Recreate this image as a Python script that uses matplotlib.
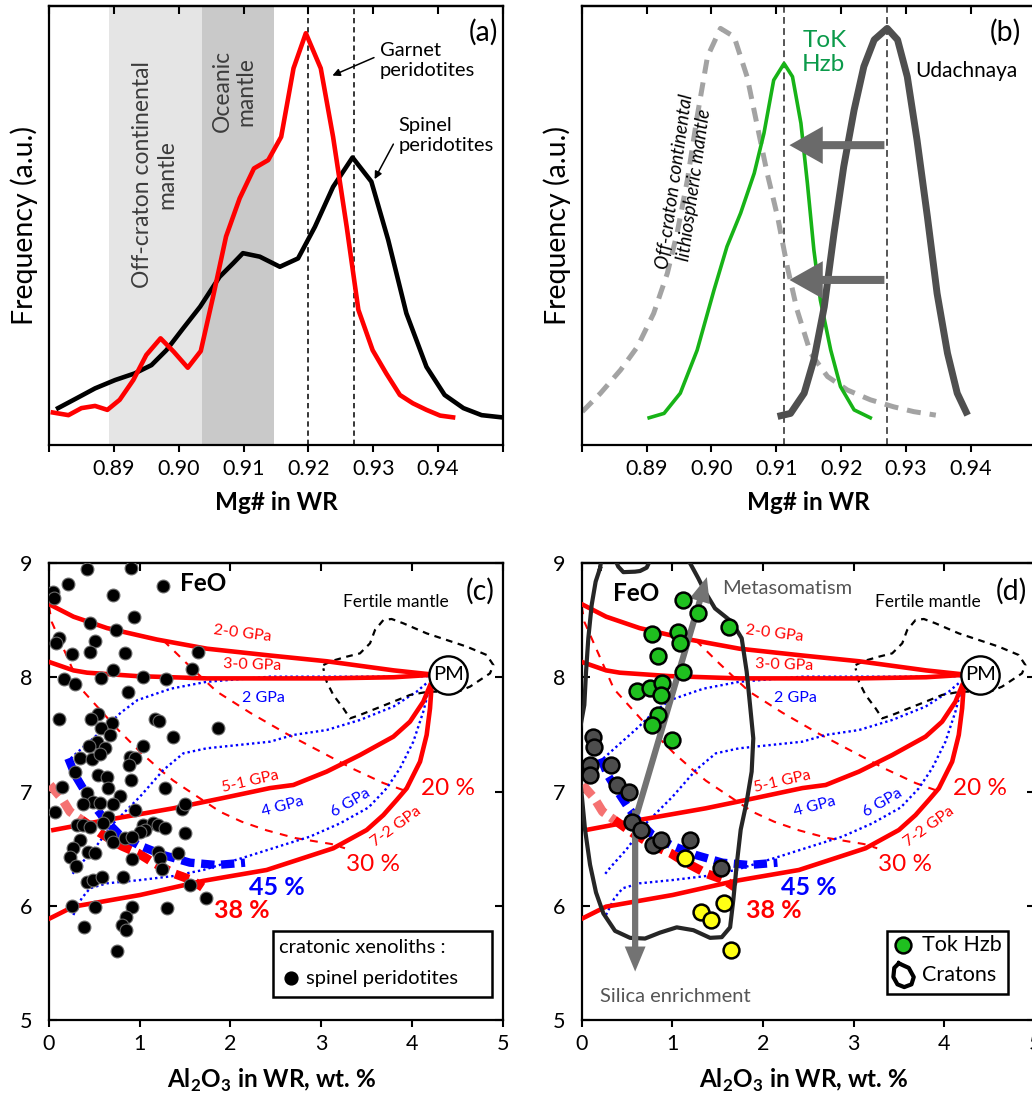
import numpy as np
import matplotlib.pyplot as plt
from matplotlib.patches import FancyArrowPatch, Rectangle

plt.rcParams['font.family'] = ['Lato', 'DejaVu Sans']
plt.rcParams['mathtext.fontset'] = 'custom'
plt.rcParams['mathtext.rm'] = 'Lato'
plt.rcParams['mathtext.bf'] = 'Lato:bold'

# ---- (a) Mg# distributions of garnet and spinel peridotites
garnet_mg = [0.8806, 0.8830, 0.8850, 0.8871, 0.8890, 0.8909, 0.8930, 0.8950, 0.8972, 0.8992,
             0.9014, 0.9034, 0.9053, 0.9073, 0.9094, 0.9116, 0.9138, 0.9158, 0.9177, 0.9196,
             0.9219, 0.9238, 0.9259, 0.9277, 0.9299, 0.9320, 0.9341, 0.9361, 0.9382, 0.9403, 0.9423]
garnet_freq = [0.074, 0.068, 0.084, 0.089, 0.080, 0.103, 0.148, 0.205, 0.243, 0.213,
               0.176, 0.214, 0.338, 0.475, 0.562, 0.630, 0.649, 0.702, 0.858, 0.938,
               0.858, 0.702, 0.497, 0.308, 0.216, 0.163, 0.114, 0.095, 0.080, 0.067, 0.063]
spinel_mg = [0.8814, 0.8842, 0.8871, 0.8902, 0.8932, 0.8958, 0.8981, 0.9007, 0.9033, 0.9063,
             0.9084, 0.9099, 0.9125, 0.9156, 0.9184, 0.9210, 0.9238, 0.9268, 0.9297, 0.9323,
             0.9351, 0.9382, 0.9410, 0.9439, 0.9467, 0.9498]
spinel_freq = [0.084, 0.106, 0.129, 0.148, 0.163, 0.182, 0.216, 0.266, 0.315, 0.383,
               0.414, 0.437, 0.429, 0.406, 0.425, 0.497, 0.588, 0.655, 0.600, 0.467,
               0.300, 0.178, 0.114, 0.084, 0.068, 0.063]
offcraton_band = [0.8892, 0.9036]
oceanic_band = [0.9036, 0.9147]
a_peaks = [0.920, 0.927]

# ---- (b) Off-craton, ToK harzburgites, Udachnaya
ocl_mg = [0.8801, 0.8829, 0.8860, 0.8886, 0.8911, 0.8932, 0.8947, 0.8963, 0.8978, 0.8994,
          0.9014, 0.9035, 0.9055, 0.9071, 0.9086, 0.9102, 0.9117, 0.9132, 0.9153, 0.9179,
          0.9210, 0.9245, 0.9281, 0.9312, 0.9346]
ocl_freq = [0.076, 0.118, 0.171, 0.224, 0.300, 0.391, 0.482, 0.604, 0.748, 0.885,
            0.949, 0.930, 0.839, 0.725, 0.619, 0.520, 0.406, 0.308, 0.209, 0.156,
            0.125, 0.103, 0.087, 0.076, 0.068]
tok_mg = [0.8904, 0.8927, 0.8952, 0.8978, 0.9004, 0.9024, 0.9045, 0.9066, 0.9081, 0.9096,
          0.9112, 0.9125, 0.9138, 0.9148, 0.9158, 0.9168, 0.9184, 0.9199, 0.9220, 0.9245]
tok_freq = [0.062, 0.072, 0.118, 0.216, 0.353, 0.452, 0.528, 0.619, 0.710, 0.831,
            0.869, 0.839, 0.733, 0.596, 0.444, 0.330, 0.216, 0.133, 0.080, 0.062]
uda_mg = [0.9102, 0.9122, 0.9143, 0.9158, 0.9174, 0.9189, 0.9204, 0.9220, 0.9235, 0.9251,
          0.9271, 0.9287, 0.9302, 0.9317, 0.9333, 0.9348, 0.9364, 0.9379, 0.9395]
uda_freq = [0.065, 0.072, 0.118, 0.194, 0.315, 0.482, 0.634, 0.763, 0.862, 0.923,
            0.949, 0.923, 0.839, 0.695, 0.520, 0.345, 0.209, 0.118, 0.068]
b_peaks = [0.9112, 0.9271]
shift_levels = [0.683, 0.376]

# ---- (c)/(d) melting model (Al2O3 vs FeO)
pm = [4.40, 8.02]
line_20_al = [0.0, 0.27, 0.64, 1.19, 1.74, 2.44, 3.06, 3.80, 4.20]
line_20_feo = [8.64, 8.53, 8.43, 8.33, 8.25, 8.19, 8.14, 8.06, 8.026]
line_30_al = [0.015, 0.27, 0.42, 0.97, 1.74, 2.43, 3.06, 3.80, 4.20]
line_30_feo = [8.13, 8.06, 8.04, 8.01, 7.99, 7.99, 7.99, 8.00, 8.02]
line_51_al = [0.048, 0.636, 1.370, 1.90, 2.436, 2.693, 3.060, 3.427, 3.795, 3.978, 4.125, 4.20]
line_51_feo = [6.663, 6.751, 6.853, 6.94, 7.03, 7.057, 7.174, 7.319, 7.480, 7.611, 7.786, 7.93]
line_72_al = [0.011, 0.268, 1.003, 1.700, 2.398, 3.133, 3.501, 3.685, 3.832, 3.942, 4.089, 4.162, 4.199, 4.217]
line_72_feo = [5.890, 5.992, 6.094, 6.218, 6.313, 6.503, 6.663, 6.794, 6.926, 7.028, 7.261, 7.495, 7.728, 7.93]
f20_al = [1.260, 1.517, 1.848, 2.215, 2.619, 2.987, 3.354, 3.685, 3.905]
f20_feo = [8.322, 8.122, 7.875, 7.690, 7.505, 7.351, 7.197, 7.074, 7.012]
f30_al = [0.0, 0.029, 0.356, 0.764, 1.021, 1.216, 1.370, 1.609, 1.885, 2.123, 2.399, 2.711, 3.115, 3.262]
f30_feo = [8.62, 8.486, 7.897, 7.538, 7.334, 7.197, 7.095, 6.969, 6.823, 6.736, 6.660, 6.593, 6.540, 6.503]
p2_al = [0.239, 0.423, 0.607, 0.791, 0.975, 1.343, 1.737, 2.436, 3.0, 3.8, 4.21]
p2_feo = [7.29, 7.42, 7.55, 7.69, 7.80, 7.90, 7.96, 8.005, 8.005, 8.005, 8.01]
p4_al = [0.26, 0.323, 0.489, 0.709, 1.003, 1.260, 1.480, 1.737, 2.436, 2.693, 3.060, 3.427, 3.795, 4.052, 4.180]
p4_feo = [6.28, 6.342, 6.488, 6.721, 6.955, 7.188, 7.334, 7.378, 7.436, 7.495, 7.538, 7.626, 7.743, 7.874, 7.961]
p6_al = [0.268, 0.360, 0.452, 0.636, 1.003, 1.370, 1.700, 2.178, 2.582, 2.876, 3.207, 3.521, 3.721, 3.868, 4.015, 4.125, 4.199]
p6_feo = [5.919, 6.065, 6.153, 6.196, 6.225, 6.260, 6.313, 6.430, 6.532, 6.605, 6.721, 6.86, 7.028, 7.203, 7.436, 7.699, 7.93]
m45_al = [0.213, 0.287, 0.386, 0.507, 0.617, 0.782, 0.984, 1.260, 1.554, 1.848, 2.160]
m45_feo = [7.290, 7.144, 7.013, 6.867, 6.751, 6.619, 6.532, 6.444, 6.377, 6.357, 6.377]
m38a_al = [0.011, 0.140, 0.231, 0.360]
m38a_feo = [7.057, 6.940, 6.823, 6.751]
m38b_al = [0.360, 0.569, 0.801, 0.984, 1.131, 1.389, 1.572, 1.693]
m38b_feo = [6.751, 6.634, 6.523, 6.459, 6.386, 6.278, 6.225, 6.161]
fertile_al = [3.023, 3.115, 3.280, 3.427, 3.538, 3.593, 3.685, 3.776, 3.905, 4.162, 4.383, 4.603,
              4.823, 4.897, 4.860, 4.750, 4.640, 4.529, 4.383, 4.180, 3.978, 3.795, 3.611, 3.427,
              3.317, 3.244, 3.133, 3.060, 3.023]
fertile_feo = [8.107, 8.142, 8.180, 8.209, 8.297, 8.414, 8.501, 8.510, 8.472, 8.384, 8.326, 8.268,
               8.195, 8.107, 8.034, 7.976, 7.918, 7.880, 7.874, 7.874, 7.845, 7.786, 7.728, 7.670,
               7.640, 7.728, 7.845, 7.961, 8.078]

# ---- (c) cratonic spinel peridotites
spinel_al = [0.415, 0.904, 0.213, 1.260, 0.702, 0.048, 0.055, 0.937, 0.452, 0.738, 0.110, 0.077,
             0.507, 0.452, 0.250, 0.838, 1.646, 0.702, 1.572, 0.165, 0.287, 0.573, 1.040, 1.290,
             0.874, 0.114, 0.544, 0.459, 0.691, 0.569, 1.168, 1.216, 1.859, 1.370, 0.672, 0.533,
             0.445, 0.617, 1.040, 0.342, 0.470, 0.562, 0.893, 0.948, 0.885,
             0.287, 0.544, 0.636, 0.900, 0.140, 0.654, 1.278, 0.415, 0.782, 0.489, 0.562, 0.378,
             0.702, 0.066, 0.948, 1.462, 1.499, 0.654, 0.599, 0.305, 0.378, 0.452, 1.040, 1.150,
             1.205, 1.278, 1.058, 1.003, 1.499, 0.342, 0.672, 0.709, 0.838, 0.911, 0.268, 0.433,
             0.507, 0.231, 1.205, 1.223, 1.425, 0.911, 0.298, 1.242, 0.415, 0.489, 0.580, 0.812,
             1.554, 1.727, 0.250, 0.507, 0.911, 1.297, 0.849, 0.801, 0.849, 0.386, 0.753]
spinel_feo = [8.947, 8.953, 8.813, 8.802, 8.720, 8.743, 8.691, 8.527, 8.472, 8.414, 8.341, 8.297,
              8.317, 8.224, 8.201, 8.209, 8.218, 8.063, 8.069, 7.985, 7.938, 7.991, 7.999, 7.982,
              7.874, 7.635, 7.675, 7.635, 7.597, 7.553, 7.632, 7.620, 7.559, 7.480, 7.495, 7.436,
              7.398, 7.378, 7.398, 7.290, 7.284, 7.325, 7.305, 7.290, 7.232,
              7.174, 7.144, 7.130, 7.101, 7.042, 7.028, 7.028, 6.984, 6.961, 6.911, 6.902, 6.891,
              6.891, 6.823, 6.838, 6.844, 6.891, 6.780, 6.721, 6.707, 6.707, 6.692, 6.707, 6.727,
              6.707, 6.678, 6.663, 6.648, 6.634, 6.575, 6.610, 6.561, 6.590, 6.605, 6.503, 6.473,
              6.459, 6.430, 6.473, 6.415, 6.459, 6.406, 6.348, 6.319, 6.211, 6.225, 6.249, 6.249,
              6.182, 6.065, 5.998, 5.992, 5.986, 5.977, 5.904, 5.831, 5.788, 5.817, 5.607]

# ---- (d) ToK samples and craton field
tok_hzb_al = [1.122, 1.287, 1.626, 0.772, 1.067, 1.085, 0.846, 1.122, 0.607, 0.754, 0.890, 0.871,
              0.839, 0.780, 1.000]
tok_hzb_feo = [8.676, 8.559, 8.437, 8.376, 8.393, 8.297, 8.189, 8.049, 7.880, 7.909, 7.947, 7.845,
               7.670, 7.582, 7.448]
tok_gray_al = [0.128, 0.139, 0.092, 0.092, 0.323, 0.386, 0.522, 0.552, 0.651, 0.791, 0.872, 1.196, 1.538]
tok_gray_feo = [7.480, 7.392, 7.232, 7.144, 7.232, 7.057, 6.993, 6.733, 6.666, 6.528, 6.574, 6.574, 6.330]
tok_yel_al = [1.141, 1.571, 1.317, 1.428, 1.645]
tok_yel_feo = [6.415, 6.024, 5.942, 5.878, 5.612]
craton_al = [0.202, 0.23, 0.33, 0.404, 0.46, 0.588, 0.644, 0.717, 0.80, 1.10, 1.195, 1.287, 1.361,
             1.471, 1.655, 1.766, 1.821, 1.858, 1.894, 1.876, 1.821, 1.755, 1.711, 1.674, 1.638,
             1.546, 1.417, 1.233, 1.049, 0.865, 0.699, 0.534, 0.368, 0.239, 0.158, 0.092, 0.037,
             0.0, -0.03, -0.03, 0.029, 0.048, 0.073, 0.110, 0.154, 0.202]
craton_feo = [8.953, 9.10, 9.10, 8.968, 8.92, 8.924, 8.93, 8.959, 9.10, 9.10, 9.0, 8.866, 8.749,
              8.603, 8.486, 8.341, 8.049, 7.757, 7.465, 7.174, 6.911, 6.666, 6.360, 6.055, 5.811,
              5.725, 5.719, 5.786, 5.811, 5.765, 5.713, 5.719, 5.780, 5.933, 6.116, 6.360, 6.666,
              6.971, 7.2, 7.5, 7.757, 8.049, 8.341, 8.632, 8.837, 8.953]

RED = '#ff0000'
BLUE = '#0000ff'

fig = plt.figure(figsize=(10.32, 10.97), dpi=100)
ax_a = fig.add_axes([49 / 1032, 652 / 1097, 454 / 1032, 439 / 1097])
ax_b = fig.add_axes([581.7 / 1032, 652 / 1097, 454 / 1032, 439 / 1097])
ax_c = fig.add_axes([49 / 1032, 77 / 1097, 453.7 / 1032, 457 / 1097])
ax_d = fig.add_axes([581.7 / 1032, 77 / 1097, 453 / 1032, 457 / 1097])


def frame(ax, xticks, xlabels, yticks=None):
    for s in ax.spines.values():
        s.set_linewidth(1.6)
    ax.set_xticks(xticks)
    ax.set_xticklabels(xlabels)
    ax.tick_params(axis='x', direction='out', length=5, width=1.5, labelsize=15.5, pad=5)
    top = ax.secondary_xaxis('top')
    top.set_xticks(xticks)
    top.tick_params(axis='x', direction='in', length=6, width=1.5, labeltop=False)
    top.spines['top'].set_linewidth(1.6)
    if yticks is None:
        ax.set_yticks([])
    else:
        ax.set_yticks(yticks)
        ax.tick_params(axis='y', direction='in', left=True, right=True, length=6, width=1.5,
                       labelsize=15.5, pad=12)


# ---------------- (a)
ax = ax_a
ax.axvspan(*offcraton_band, color='#e5e5e5', lw=0, zorder=0)
ax.axvspan(*oceanic_band, color='#c9c9c9', lw=0, zorder=0)
for p in a_peaks:
    ax.axvline(p, color='black', lw=1.1, ls=(0, (3.5, 2.5)), zorder=1)
ax.plot(spinel_mg, spinel_freq, color='black', lw=3.3, zorder=3)
ax.plot(garnet_mg, garnet_freq, color=RED, lw=3.3, zorder=4)
ax.set_xlim(0.88, 0.95)
ax.set_ylim(0, 1)
mg_ticks = [0.88, 0.89, 0.90, 0.91, 0.92, 0.93, 0.94, 0.95]
mg_labels = ['', '0.89', '0.90', '0.91', '0.92', '0.93', '0.94', '']
frame(ax, mg_ticks, mg_labels)
ax.set_xlabel('Mg# in WR', fontsize=17.5, fontweight='bold')
ax.xaxis.set_label_coords(0.5, -0.105)
ax.text(-0.055, 0.5, 'Frequency (a.u.)', transform=ax.transAxes, rotation=90,
        ha='center', va='center', fontsize=20.5)
ax.text(0.8963, 0.615, 'Off-craton continental\nmantle', rotation=90, ha='center', va='center',
        fontsize=16.5, color='#3c3c3c', linespacing=1.15)
ax.text(0.9086, 0.806, 'Oceanic\nmantle', rotation=90, ha='center', va='center',
        fontsize=16.5, color='#3c3c3c', linespacing=1.15)
ax.text(0.9310, 0.918, 'Garnet\nperidotites', ha='left', va='top', fontsize=14.5, linespacing=1.25)
ax.text(0.9339, 0.748, 'Spinel\nperidotites', ha='left', va='top', fontsize=14.5, linespacing=1.25)
ax.annotate('', xy=(0.9233, 0.839), xytext=(0.9305, 0.885),
            arrowprops=dict(arrowstyle='-|>', color='black', lw=1.1, mutation_scale=11))
ax.annotate('', xy=(0.9300, 0.600), xytext=(0.9333, 0.691),
            arrowprops=dict(arrowstyle='-|>', color='black', lw=1.1, mutation_scale=11))
ax.text(0.9492, 0.94, '(a)', ha='right', va='center', fontsize=20.5)

# ---------------- (b)
ax = ax_b
for p in b_peaks:
    ax.axvline(p, color='#555555', lw=1.4, ls=(0, (3.5, 2.2)), zorder=1)
ax.plot(ocl_mg, ocl_freq, color='#a3a3a3', lw=3.6, ls=(0, (2.8, 1.8)), zorder=2)
ax.plot(tok_mg, tok_freq, color='#17b317', lw=2.6, zorder=3)
ax.plot(uda_mg, uda_freq, color='#4f4f4f', lw=5, zorder=3, solid_capstyle='butt')
for lv in shift_levels:
    ax.add_patch(FancyArrowPatch((b_peaks[1], lv), (b_peaks[0] + 0.0004, lv),
                                 arrowstyle='simple,head_length=2.4,head_width=2.7,tail_width=0.58',
                                 mutation_scale=10, color='#6a6a6a', lw=0, zorder=5))
ax.set_xlim(0.88, 0.95)
ax.set_ylim(0, 1)
frame(ax, mg_ticks, mg_labels)
ax.set_xlabel('Mg# in WR', fontsize=17.5, fontweight='bold')
ax.xaxis.set_label_coords(0.5, -0.105)
ax.text(-0.055, 0.5, 'Frequency (a.u.)', transform=ax.transAxes, rotation=90,
        ha='center', va='center', fontsize=20.5)
ax.text(0.9140, 0.894, 'ToK\nHzb', ha='left', va='center', fontsize=17.5, color='#0b9a4a',
        linespacing=1.15)
ax.text(0.9315, 0.853, 'Udachnaya', ha='left', va='center', fontsize=15)
ax.text(0.8958, 0.596, 'Off-craton continental\nlithiospheric mantle', rotation=82, ha='center',
        va='center', fontsize=13.5, style='italic', linespacing=1.2)
ax.text(0.9478, 0.94, '(b)', ha='right', va='center', fontsize=20.5)


# ---------------- (c) and (d)
def draw_model(ax):
    ax.plot(line_20_al, line_20_feo, color=RED, lw=3.3, zorder=3)
    ax.plot(line_30_al, line_30_feo, color=RED, lw=3.3, zorder=3)
    ax.plot(line_51_al, line_51_feo, color=RED, lw=3.3, zorder=3)
    ax.plot(line_72_al, line_72_feo, color=RED, lw=3.3, zorder=3)
    ax.plot(f20_al, f20_feo, color=RED, lw=1.5, ls=(0, (3.8, 3.6)), zorder=2)
    ax.plot(f30_al, f30_feo, color=RED, lw=1.5, ls=(0, (3.8, 3.6)), zorder=2)
    for xs, ys in [(p2_al, p2_feo), (p4_al, p4_feo), (p6_al, p6_feo)]:
        ax.plot(xs, ys, color=BLUE, lw=1.7, ls=(0, (1.0, 1.3)), zorder=2)
    ax.plot(m38a_al, m38a_feo, color='#f57272', lw=6.5, ls=(0, (1.6, 0.8)), zorder=4)
    ax.plot(m38b_al, m38b_feo, color=RED, lw=6.5, ls=(0, (1.6, 0.8)), zorder=4)
    ax.plot(m45_al, m45_feo, color=BLUE, lw=6, ls=(0, (1.6, 0.8)), zorder=4)
    ax.plot(fertile_al, fertile_feo, color='black', lw=1.6, ls=(0, (3, 2.5)), zorder=2)
    ax.scatter([pm[0]], [pm[1]], s=760, marker='o', facecolors='white', edgecolors='black',
               linewidths=1.7, zorder=5)
    ax.text(pm[0], pm[1], 'PM', ha='center', va='center', fontsize=14.5, zorder=6)
    lab = dict(ha='center', va='center', fontsize=11.5, zorder=6)
    ax.text(2.13, 8.38, '2-0 GPa', color=RED, rotation=-7, **lab)
    ax.text(2.24, 8.11, '3-0 GPa', color=RED, rotation=-2, **lab)
    ax.text(2.36, 7.82, '2 GPa', color=BLUE, **lab)
    ax.text(2.215, 7.09, '5-1 GPa', color=RED, rotation=13, **lab)
    ax.text(2.575, 6.87, '4 GPa', color=BLUE, rotation=15, **lab)
    ax.text(3.32, 6.90, '6 GPa', color=BLUE, rotation=30, **lab)
    ax.text(3.83, 6.69, '7-2 GPa', color=RED, rotation=36, **lab)
    ax.text(4.40, 7.03, '20 %', color=RED, ha='center', va='center', fontsize=17.5, zorder=6)
    ax.text(3.57, 6.36, '30 %', color=RED, ha='center', va='center', fontsize=17.5, zorder=6)
    ax.text(2.51, 6.16, '45 %', color=BLUE, ha='center', va='center', fontsize=18,
            fontweight='bold', zorder=6)
    ax.text(2.12, 5.96, '38 %', color=RED, ha='center', va='center', fontsize=18,
            fontweight='bold', zorder=6)
    ax.text(3.82, 8.655, 'Fertile mantle', ha='center', va='center', fontsize=12.5, zorder=6)
    ax.set_xlim(0, 5)
    ax.set_ylim(5, 9)
    frame(ax, [0, 1, 2, 3, 4, 5], ['0', '1', '2', '3', '4', '5'], [5, 6, 7, 8, 9])
    ax.set_xlabel(r'Al$_\mathbf{2}$O$_\mathbf{3}$ in WR, wt. %', fontsize=17.5, fontweight='bold')
    ax.xaxis.set_label_coords(0.49, -0.102)


ax = ax_c
draw_model(ax)
ax.scatter(spinel_al, spinel_feo, s=85, c='black', edgecolors='#6a6a6a', linewidths=0.8, zorder=8)
ax.text(1.70, 8.82, 'FeO', ha='center', va='center', fontsize=17.5, fontweight='bold', zorder=9)
ax.text(4.915, 8.755, '(c)', ha='right', va='center', fontsize=20.5)
ax.add_patch(Rectangle((0.493, 0.051), 0.484, 0.144, transform=ax.transAxes, fc='white',
                       ec='black', lw=1.8, zorder=10))
ax.text(0.508, 0.158, 'cratonic xenoliths :', transform=ax.transAxes, ha='left', va='center',
        fontsize=14.5, zorder=11)
ax.scatter([0.533], [0.091], s=85, c='black', transform=ax.transAxes, zorder=11, clip_on=False)
ax.text(0.566, 0.091, 'spinel peridotites', transform=ax.transAxes, ha='left', va='center',
        fontsize=14.5, zorder=11)

ax = ax_d
draw_model(ax)
ax.plot(craton_al, craton_feo, color='#262626', lw=3, zorder=6)
arrow_kw = dict(arrowstyle='simple,head_length=1.8,head_width=1.5,tail_width=0.45',
                mutation_scale=10, color='#737373', lw=0, zorder=7)
ax.add_patch(FancyArrowPatch((0.60, 6.78), (1.39, 8.90), **arrow_kw))
ax.add_patch(FancyArrowPatch((0.59, 6.86), (0.59, 5.40), **arrow_kw))
ax.scatter(tok_gray_al, tok_gray_feo, s=130, c='#4d4d4d', edgecolors='black', linewidths=1.8, zorder=8)
ax.scatter(tok_yel_al, tok_yel_feo, s=130, c='#ffff14', edgecolors='black', linewidths=1.8, zorder=8)
ax.scatter(tok_hzb_al, tok_hzb_feo, s=130, c='#1fc01f', edgecolors='black', linewidths=1.8, zorder=8)
ax.text(0.60, 8.73, 'FeO', ha='center', va='center', fontsize=17.5, fontweight='bold', zorder=9)
ax.text(1.545, 8.78, 'Metasomatism', ha='left', va='center', fontsize=14.5, color='#555555', zorder=9)
ax.text(0.20, 5.21, 'Silica enrichment', ha='left', va='center', fontsize=14.5, color='#555555', zorder=9)
ax.text(4.91, 8.755, '(d)', ha='right', va='center', fontsize=20.5)
ax.add_patch(Rectangle((0.673, 0.056), 0.268, 0.139, transform=ax.transAxes, fc='white',
                       ec='black', lw=1.8, zorder=10))
ax.scatter([0.709], [0.1645], s=130, c='#1fc01f', edgecolors='black', linewidths=1.8,
           transform=ax.transAxes, zorder=11, clip_on=False)
ax.text(0.751, 0.1645, 'Tok Hzb', transform=ax.transAxes, ha='left', va='center', fontsize=15.5, zorder=11)
icon_x = [0.700, 0.722, 0.733, 0.728, 0.712, 0.697, 0.688, 0.690, 0.700]
icon_y = [0.124, 0.114, 0.094, 0.078, 0.072, 0.078, 0.094, 0.114, 0.124]
ax.plot(icon_x, icon_y, color='black', lw=3, transform=ax.transAxes, zorder=11)
ax.text(0.751, 0.0995, 'Cratons', transform=ax.transAxes, ha='left', va='center', fontsize=15.5, zorder=11)

fig.savefig('out.png', dpi=100)
